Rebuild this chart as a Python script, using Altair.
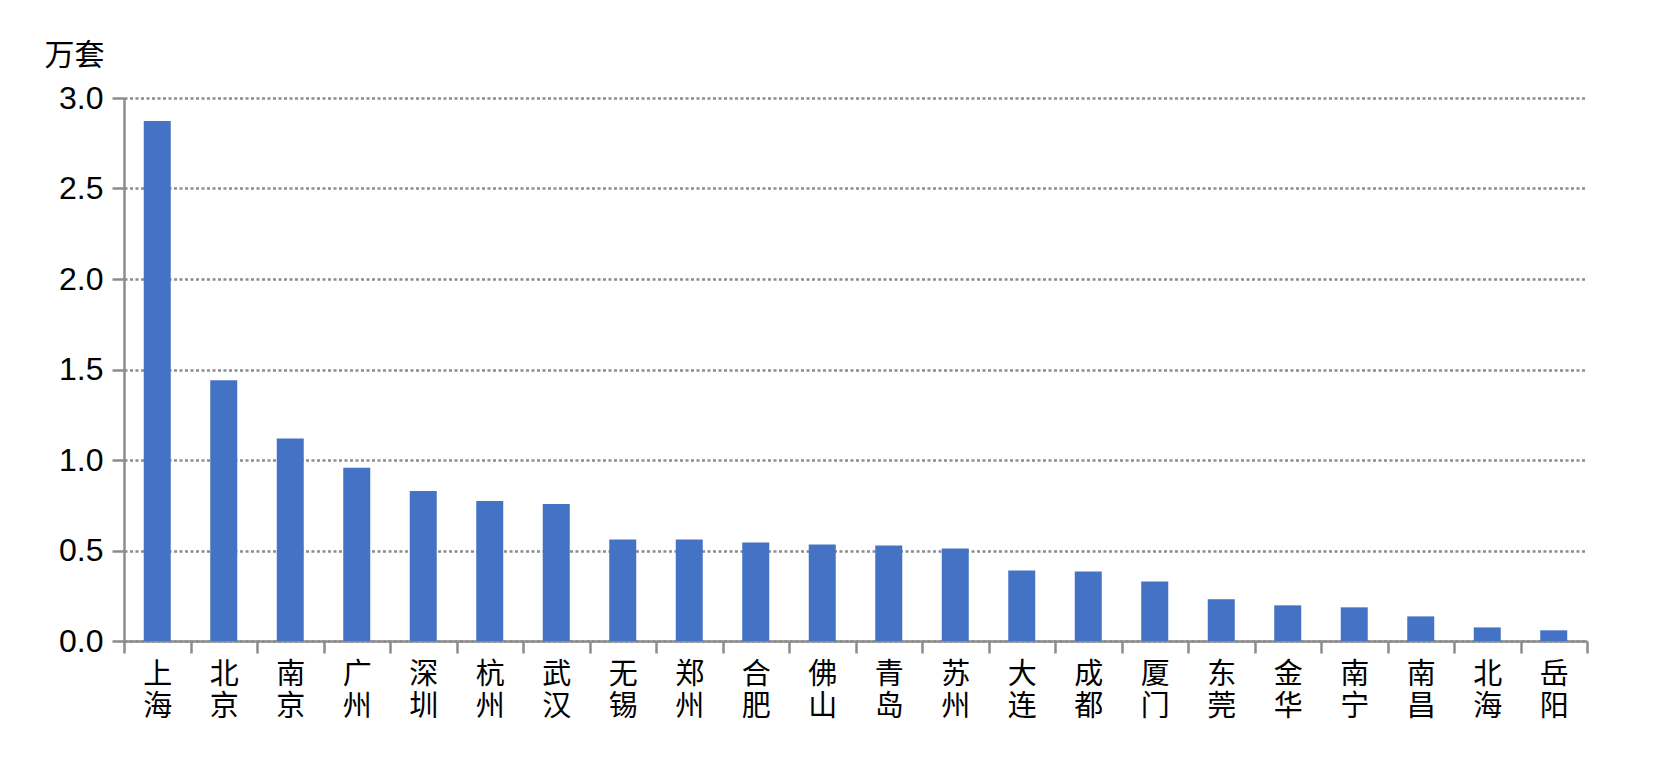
import altair as alt
import pandas as pd

cities = ["上海", "北京", "南京", "广州", "深圳", "杭州", "武汉", "无锡", "郑州", "合肥", "佛山",
          "青岛", "苏州", "大连", "成都", "厦门", "东莞", "金华", "南宁", "南昌", "北海", "岳阳"]
values = [2.873, 1.441, 1.119, 0.957, 0.829, 0.774, 0.757, 0.561, 0.561, 0.544, 0.533,
          0.528, 0.511, 0.389, 0.384, 0.329, 0.23, 0.197, 0.186, 0.136, 0.075, 0.059]
y_ticks = [0, 0.5, 1.0, 1.5, 2.0, 2.5, 3.0]

df = pd.DataFrame({"city": cities, "value": values})

AX = "#8c8c8c"

chart = alt.Chart(df).mark_bar(size=27, color="#4472C4").encode(
    x=alt.X("city:N", sort=None,
            scale=alt.Scale(paddingInner=0, paddingOuter=0),
            axis=alt.Axis(title=None, labelAngle=0, tickBand="extent",
                          labelExpr="split(datum.label, '')",
                          labelFont="Noto Sans CJK SC", labelFontSize=29,
                          labelLineHeight=32, labelBaseline="top", labelPadding=7,
                          labelColor="#000000",
                          domainColor=AX, domainWidth=2.5,
                          tickColor=AX, tickWidth=2.5, tickSize=12, grid=False)),
    y=alt.Y("value:Q",
            scale=alt.Scale(domain=[0, 3], nice=False),
            axis=alt.Axis(values=y_ticks, format=".1f",
                          title="万套", titleAngle=0, titleX=-50, titleY=-43,
                          titleAlign="center", titleBaseline="middle",
                          titleFont="Noto Sans CJK SC", titleFontSize=30,
                          titleFontWeight="normal", titleColor="#000000",
                          labelFont="Liberation Sans", labelFontSize=32,
                          labelColor="#000000", labelPadding=9,
                          domainColor=AX, domainWidth=2.5,
                          tickColor=AX, tickWidth=2.5, tickSize=12,
                          grid=True, gridColor=AX, gridWidth=2.5,
                          gridDash=[3, 2.5])),
).properties(
    width=1463, height=543,
    autosize=alt.AutoSizeParams(type="none"),
    padding={"left": 116, "top": 90, "right": 80, "bottom": 130},
).configure(background="#ffffff").configure_view(stroke=None)

chart.save("out.html", embed_options={"renderer": "svg", "actions": False})
